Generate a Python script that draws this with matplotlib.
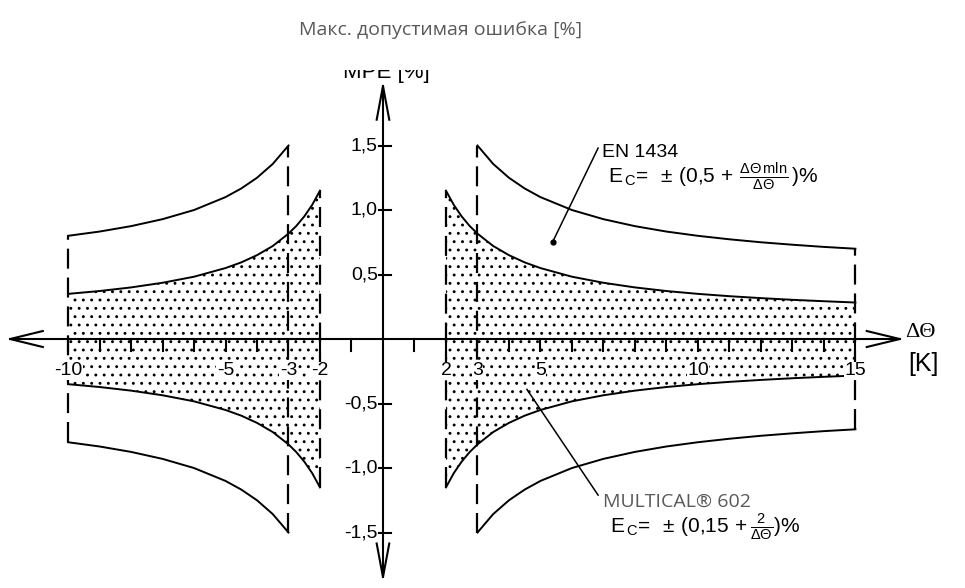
import matplotlib.pyplot as plt
import numpy as np
from matplotlib.patches import Rectangle

plt.rcParams['font.family'] = ['Liberation Sans', 'DejaVu Sans']
plt.rcParams['mathtext.fontset'] = 'custom'
plt.rcParams['mathtext.rm'] = 'Liberation Sans'
plt.rcParams['mathtext.it'] = 'Liberation Sans:italic'
plt.rcParams['hatch.linewidth'] = 0.9

# EN 1434 limit (|dT| in K, error in %)
dt_en = [3, 3.5, 4, 4.5, 5, 6, 7, 8, 9, 10, 11, 12, 13, 14, 15]
en_err = [1.5, 1.357, 1.25, 1.167, 1.1, 1.0, 0.929, 0.875, 0.833, 0.8,
          0.773, 0.75, 0.731, 0.714, 0.7]
# MULTICAL 602 limit
dt_mc = [2, 2.25, 2.5, 2.75, 3, 3.5, 4, 4.5, 5, 6, 7, 8, 9, 10, 11, 12, 13, 14, 15]
mc_err = [1.15, 1.039, 0.95, 0.877, 0.817, 0.721, 0.65, 0.594, 0.55, 0.483,
          0.436, 0.4, 0.372, 0.35, 0.332, 0.317, 0.304, 0.293, 0.283]
left_min = -10

x_tick_pos = list(range(-10, 0)) + list(range(1, 16))
x_label_pos = [-10, -5, -3, -2, 2, 3, 5, 10, 15]
x_label_txt = ['-10', '-5', '-3', '-2', '2', '3', '5', '10', '15']
y_tick_pos = [-1.5, -1.0, -0.5, 0.5, 1.0, 1.5]
y_tick_txt = ['-1,5', '-1,0', '-0,5', '0,5', '1,0', '1,5']

title = 'Макс. допустимая ошибка [%]'
en_name = 'EN 1434'
en_formula = r'$\mathregular{E_{\,C}\!=\ \pm\,(0{,}5\,+\,\frac{\Delta\Theta\,mln}{\Delta\Theta}\,)\%}$'
mc_name = 'MULTICAL® 602'
mc_formula = r'$\mathregular{E_{\,C}\!=\ \pm\,(0{,}15\,+\frac{2}{\Delta\Theta})\%}$'

fig = plt.figure(figsize=(9.65, 5.88), dpi=100)
ax = fig.add_axes([0, 0, 1, 1])
ax.set_xlim(-12.16, 18.48)
ax.set_ylim(-1.93, 2.628)
ax.axis('off')


def sides(dt, err):
    dt = np.array(dt)
    err = np.array(err)
    m = dt <= -left_min
    return (-dt[m], err[m]), (dt, err)


lw = 1.4
dash = (0, (9, 4))

# stippled MULTICAL band
for xs, ys in sides(dt_mc, mc_err):
    ax.fill_between(xs, -ys, ys, facecolor='none', edgecolor='black',
                    linewidth=0, hatch='..', zorder=1)
    ax.plot(xs, ys, color='black', lw=lw, zorder=3)
    ax.plot(xs, -ys, color='black', lw=lw, zorder=3)
    # dashed edge at |dT| = 2
    ax.plot([xs[0], xs[0]], [-ys[0], ys[0]], color='black', lw=1.6,
            linestyle=dash, zorder=3)

# EN 1434 envelope
for xs, ys in sides(dt_en, en_err):
    ax.plot(xs, ys, color='black', lw=lw, zorder=3)
    ax.plot(xs, -ys, color='black', lw=lw, zorder=3)
    for i in (0, -1):
        ax.plot([xs[i], xs[i]], [-ys[i], ys[i]], color='black', lw=1.6,
                linestyle=dash, zorder=3)

# axes with open arrow heads
ax.plot([-11.84, 16.41], [0, 0], color='black', lw=1.5, zorder=4)
ax.plot([0, 0], [-1.845, 1.961], color='black', lw=1.5, zorder=4)
ax.plot([-10.8, -11.84, -10.8], [0.062, 0, -0.062], color='black', lw=1.5, zorder=4)
ax.plot([15.36, 16.41, 15.36], [0.062, 0, -0.062], color='black', lw=1.5, zorder=4)
ax.plot([-0.2, 0, 0.2], [1.70, 1.961, 1.70], color='black', lw=1.5, zorder=4)
ax.plot([-0.2, 0, 0.2], [-1.585, -1.845, -1.585], color='black', lw=1.5, zorder=4)

for xt in x_tick_pos:
    ax.plot([xt, xt], [0, -0.093], color='black', lw=1.5, zorder=4)
for xt, lab in zip(x_label_pos, x_label_txt):
    ax.text(xt, -0.245, lab, ha='center', va='center', fontsize=14, zorder=5,
            bbox=dict(facecolor='white', edgecolor='none', pad=0.3))
for yt, lab in zip(y_tick_pos, y_tick_txt):
    ax.plot([-0.13, 0.27], [yt, yt], color='black', lw=1.5, zorder=4)
    ax.text(-0.16, yt, lab, ha='right', va='center', fontsize=14, zorder=5)

ax.text(17.05, 0.047, 'ΔΘ', ha='center', va='center', fontsize=16,
        family=['Liberation Serif', 'DejaVu Serif'])
ax.text(17.15, -0.19, '[K]', ha='center', va='center', fontsize=18)

# y axis label, cut at the top like the source
ax.text(0.1, 2.02, 'MPE [%]', ha='center', va='baseline', fontsize=16)
fig.add_artist(Rectangle((0.30, 1 - 70 / 588), 0.2, 26 / 588,
                         transform=fig.transFigure, facecolor='white',
                         edgecolor='none', zorder=10))

# EN 1434 callout
ax.plot([5.39, 6.83], [0.754, 1.48], color='black', lw=1.1, zorder=4)
ax.plot(5.39, 0.754, 'o', color='black', ms=3.5, zorder=4)
ax.text(6.95, 1.41, en_name, ha='left', va='baseline', fontsize=14)
ax.text(7.14, 1.21, en_formula, ha='left', va='baseline', fontsize=15)

# MULTICAL callout
ax.plot([4.57, 6.83], [-0.39, -1.21], color='black', lw=1.1, zorder=4)
ax.text(6.98, -1.30, mc_name, ha='left', va='baseline', fontsize=14,
        family=['Open Sans', 'DejaVu Sans'], color='#595959')
ax.text(7.21, -1.50, mc_formula, ha='left', va='baseline', fontsize=15)

fig.text(441 / 965, 1 - 30 / 588, title, ha='center', va='center', fontsize=14,
         family=['Open Sans', 'DejaVu Sans'], color='#595959', zorder=11)

fig.savefig('out.png', dpi=100, facecolor='white')
